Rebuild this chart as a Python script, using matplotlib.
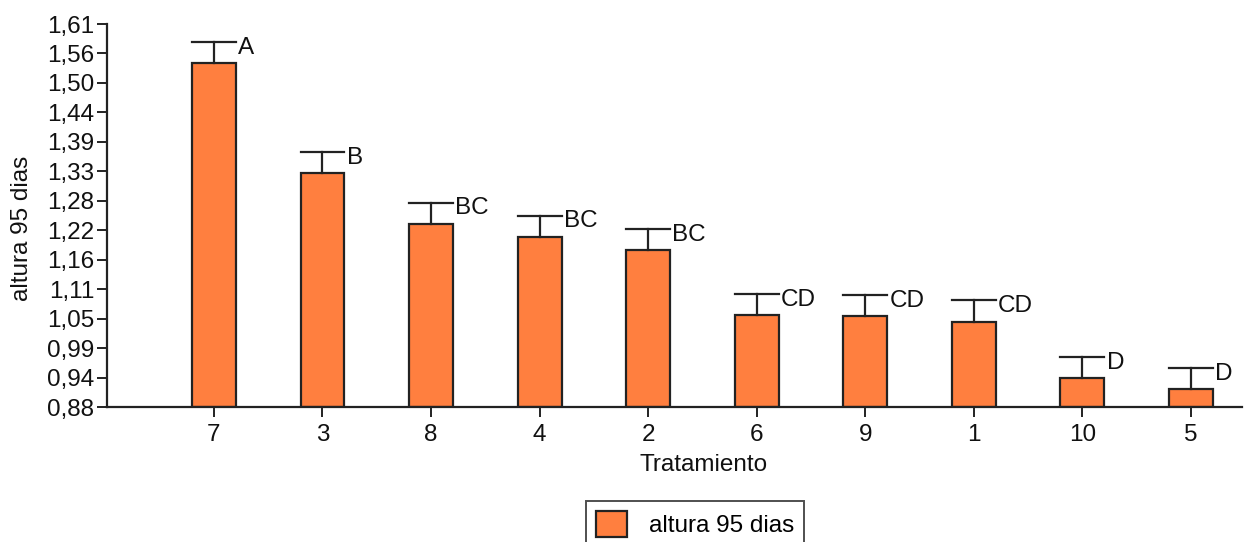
import matplotlib
matplotlib.use("Agg")
import matplotlib.pyplot as plt
from matplotlib.patches import Patch

plt.rcParams['font.family'] = ['Liberation Sans', 'DejaVu Sans']

tratamientos = ["7", "3", "8", "4", "2", "6", "9", "1", "10", "5"]
altura = [1.536, 1.326, 1.229, 1.204, 1.180, 1.056, 1.053, 1.043, 0.935, 0.914]
error = [0.040, 0.040, 0.041, 0.041, 0.040, 0.040, 0.040, 0.041, 0.040, 0.040]
letras = ["A", "B", "BC", "BC", "BC", "CD", "CD", "CD", "D", "D"]
yticks_lbl = ["0,88", "0,94", "0,99", "1,05", "1,11", "1,16", "1,22", "1,28",
              "1,33", "1,39", "1,44", "1,50", "1,56", "1,61"]

W, H = 1253, 542
fig = plt.figure(figsize=(W / 100, H / 100), dpi=100)
ax = fig.add_axes([107 / W, 1 - 407.3 / H, (1242 - 107) / W, (407.3 - 24) / H])

color = "#FF7F3F"
fs = 17.5
x = list(range(len(tratamientos)))
bw = 0.405
ax.bar(x, [a - 0.88 for a in altura], bottom=0.88, width=bw, color=color,
       edgecolor="#222222", linewidth=1.6, zorder=2)

for xi, a, e, l in zip(x, altura, error, letras):
    top = a + e
    ax.plot([xi, xi], [a, top], color="#222222", lw=1.6, zorder=3)
    ax.plot([xi - bw / 2, xi + bw / 2], [top, top], color="#222222", lw=1.6, zorder=3)
    ax.text(xi + bw / 2 + 0.02, top - 0.011, l, fontsize=fs, ha="left", va="center",
            color="#111111")

ax.set_xlim(-0.985, 9.47)
ax.set_ylim(0.88, 1.61)
ticks = [0.88 + k * (1.61 - 0.88) / 13 for k in range(14)]
ax.set_yticks(ticks)
ax.set_yticklabels(yticks_lbl)
ax.set_xticks(x)
ax.set_xticklabels(tratamientos)
ax.tick_params(axis="both", labelsize=fs, length=7, width=1.4, color="#222222",
               labelcolor="#111111", pad=2)
ax.tick_params(axis="x", pad=5)
for s in ["top", "right"]:
    ax.spines[s].set_visible(False)
for s in ["left", "bottom"]:
    ax.spines[s].set_linewidth(1.6)
    ax.spines[s].set_color("#222222")

fig.text(704 / W, 1 - 465 / H, "Tratamiento", fontsize=fs, ha="center", va="center",
         color="#111111")
fig.text(22 / W, 1 - 228 / H, "altura 95 dias", fontsize=fs, ha="center", va="center",
         rotation=90, color="#111111")

leg = fig.legend(handles=[Patch(facecolor=color, edgecolor="#222222", linewidth=1.6,
                                label="altura 95 dias")],
                 loc="upper left", bbox_to_anchor=(586 / W, 1 - 501 / H),
                 fontsize=fs, frameon=True, fancybox=False, handlelength=1.3,
                 handleheight=1.3, handletextpad=0.9, borderpad=0.4,
                 borderaxespad=0)
leg.get_frame().set_edgecolor("#222222")
leg.get_frame().set_linewidth(1.4)

fig.savefig("out.png", dpi=100)
